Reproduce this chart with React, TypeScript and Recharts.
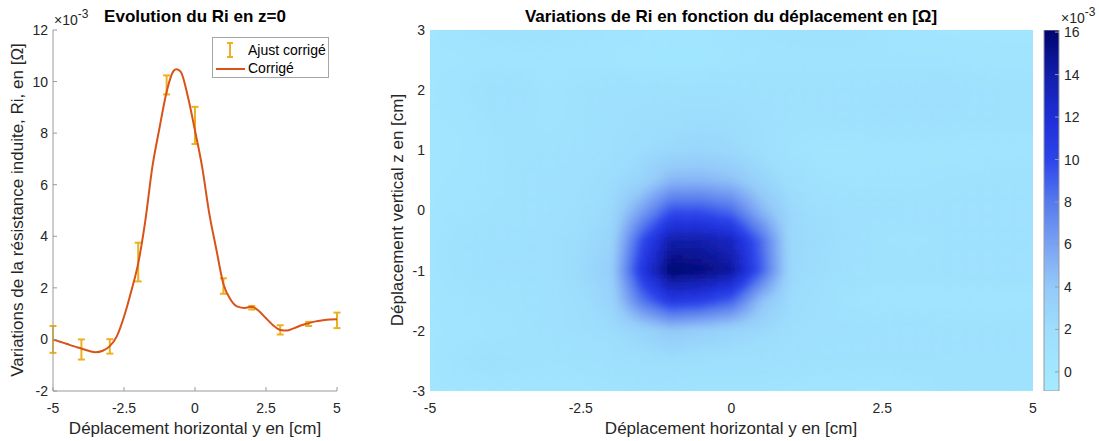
import React from 'react';
import {
  ComposedChart,
  ScatterChart,
  BarChart,
  Bar,
  Line,
  Scatter,
  ErrorBar,
  XAxis,
  YAxis,
  Legend,
  CartesianGrid,
} from 'recharts';

// profil z=0 : courbe corrigée (en 1e-3 Ohm)
const CURVE_POS = [
  -5, -4.75, -4.5, -4.25, -4, -3.75, -3.5, -3.25, -3, -2.75, -2.5, -2.25, -2, -1.75, -1.5, -1.25, -1,
  -0.75, -0.65, -0.5, -0.25, 0, 0.25, 0.5, 0.75, 1, 1.25, 1.5, 1.75, 2, 2.25, 2.5, 2.75, 3, 3.25, 3.5,
  3.75, 4, 4.25, 4.5, 4.75, 5,
];
const CURVE_RI = [
  0.0, -0.09, -0.18, -0.27, -0.35, -0.44, -0.5, -0.44, -0.26, 0.13, 0.88, 1.85, 2.95, 4.6, 6.7, 8.2, 9.6,
  10.42, 10.48, 10.38, 9.41, 8.1, 6.7, 4.9, 3.5, 2.15, 1.55, 1.27, 1.22, 1.27, 1.1, 0.82, 0.55, 0.37, 0.35,
  0.44, 0.55, 0.63, 0.7, 0.74, 0.77, 0.78,
];

// points mesurés + barres d'erreur
const MEAS_POS = [-5, -4, -3, -2, -1, 0, 1, 2, 3, 4, 5];
const MEAS_RI = [0.0, -0.39, -0.27, 3.0, 9.87, 8.3, 2.07, 1.23, 0.37, 0.6, 0.74];
const MEAS_ERR = [0.52, 0.39, 0.28, 0.75, 0.37, 0.72, 0.3, 0.07, 0.18, 0.08, 0.3];

const POS_TICKS = [-5, -2.5, 0, 2.5, 5];
const RI_TICKS = [-2, 0, 2, 4, 6, 8, 10, 12];

// carte Ri(y, z), pas de 0.5 cm
const GRID_Y = [-5, -4.5, -4, -3.5, -3, -2.5, -2, -1.5, -1, -0.5, 0, 0.5, 1, 1.5, 2, 2.5, 3, 3.5, 4, 4.5, 5];
const GRID_Z = [3, 2.5, 2, 1.5, 1, 0.5, 0, -0.5, -1, -1.5, -2, -2.5, -3];
const GRID_RI = [
  [0.5, 0.8, 1.2, 1.2, 1.2, 1.0, 0.8, 0.6, 0.5, 0.5, 0.8, 1.0, 1.2, 1.4, 1.2, 0.8, 0.6, 0.5, 0.5, 0.5, 0.5],
  [0.5, 0.5, 0.6, 0.6, 0.6, 0.6, 0.5, 0.3, 0.2, 0.3, 0.6, 0.8, 0.8, 0.8, 0.8, 0.8, 0.8, 0.8, 0.6, 0.6, 0.6],
  [0.5, 0.8, 1.5, 1.4, 0.8, 1.2, 1.5, 1.5, 1.5, 1.5, 1.5, 1.3, 1.2, 1.3, 1.4, 1.5, 1.5, 1.6, 1.4, 1.2, 1.2],
  [0.5, 0.6, 1.0, 1.2, 0.8, 1.2, 1.6, 1.8, 2.0, 2.2, 2.0, 1.6, 1.2, 1.2, 1.3, 1.5, 1.4, 1.5, 1.3, 1.2, 1.2],
  [0.5, 0.5, 0.8, 1.2, 1.2, 1.3, 1.6, 2.2, 2.6, 2.8, 2.5, 1.8, 0.8, 0.5, 0.5, 0.6, 0.6, 0.5, 0.5, 0.6, 0.6],
  [0.5, 0.6, 0.8, 1.2, 1.5, 1.6, 2.2, 3.0, 5.0, 5.0, 4.5, 3.0, 1.8, 1.0, 0.8, 0.8, 0.8, 1.0, 1.2, 1.2, 1.2],
  [0.5, 0.8, 1.0, 1.2, 1.4, 1.8, 2.5, 6.0, 9.5, 9.5, 8.5, 5.0, 2.5, 1.8, 1.5, 1.5, 1.4, 1.3, 1.3, 1.3, 1.3],
  [0.6, 1.2, 1.4, 1.4, 1.6, 2.2, 3.0, 9.5, 14.0, 14.0, 13.0, 8.5, 2.5, 2.2, 1.5, 1.0, 0.8, 1.2, 1.4, 1.4, 1.4],
  [0.6, 1.2, 1.5, 1.5, 1.6, 2.4, 3.5, 11.0, 16.0, 15.5, 14.5, 9.0, 2.5, 2.0, 1.4, 1.2, 1.2, 1.3, 1.4, 1.4, 1.4],
  [0.5, 0.8, 1.0, 1.2, 1.5, 2.0, 3.0, 8.0, 11.0, 10.5, 9.0, 4.5, 2.2, 1.6, 0.8, 0.6, 0.6, 0.6, 0.6, 0.6, 0.6],
  [0.5, 0.6, 0.8, 1.0, 1.4, 1.8, 2.2, 3.0, 4.0, 3.5, 3.0, 2.5, 1.8, 1.6, 1.5, 1.4, 1.4, 1.3, 1.3, 1.3, 1.3],
  [0.5, 1.0, 1.4, 1.2, 1.0, 1.2, 1.5, 1.8, 2.0, 1.8, 1.6, 1.5, 1.4, 1.2, 1.2, 1.2, 1.2, 1.2, 1.2, 1.2, 1.2],
  [0.5, 0.5, 0.5, 0.5, 0.6, 0.6, 0.8, 1.0, 1.0, 0.8, 0.8, 0.8, 0.6, 0.6, 0.5, 0.5, 0.6, 1.0, 1.2, 1.2, 1.2],
];
const Z_TICKS = [-3, -2, -1, 0, 1, 2, 3];
const CBAR_TICKS = [0, 2, 4, 6, 8, 10, 12, 14, 16];
const CBAR_DOMAIN = [-0.9, 16.1];

// colormap (valeur -> rgb)
const CMAP_VAL = [-0.9, 0, 2, 4, 6, 8, 10, 12, 14, 16.1];
const CMAP_RGB = [
  [164, 234, 255],
  [162, 231, 255],
  [157, 222, 253],
  [148, 202, 249],
  [122, 162, 243],
  [86, 122, 238],
  [44, 68, 235],
  [30, 46, 214],
  [18, 30, 170],
  [0, 4, 110],
];

const FONT = '"Liberation Sans", Arial, Helvetica, sans-serif';
const AXIS_GREY = '#9a9a9a';
const TXT = '#262626';

function riColor(v: number) {
  let i = 0;
  while (i < CMAP_VAL.length - 2 && v > CMAP_VAL[i + 1]) i++;
  const t = Math.max(0, Math.min(1, (v - CMAP_VAL[i]) / (CMAP_VAL[i + 1] - CMAP_VAL[i])));
  const a = CMAP_RGB[i];
  const b = CMAP_RGB[i + 1];
  const c = a.map((av, k) => Math.round(av + (b[k] - av) * t));
  return `rgb(${c[0]},${c[1]},${c[2]})`;
}

const curveData = CURVE_POS.map((pos, i) => ({ pos, ri: CURVE_RI[i] }));
const measData = MEAS_POS.map((pos, i) => ({ pos, ri: MEAS_RI[i], err: MEAS_ERR[i] }));
const cells = GRID_Z.flatMap((z, r) => GRID_Y.map((y, c) => ({ y, z, r, c, v: GRID_RI[r][c] })));
const cbarData = [{ k: 'cb', range: CBAR_DOMAIN }];

// tailles
const H = 441;
const HEAT_W = 695;
const HEAT_MARGIN = { top: 30, right: 7, left: 0, bottom: 0 };
const HEAT_YAXIS_W = 85;
const HEAT_XAXIS_H = 50;
const HEAT_PLOT_W = HEAT_W - HEAT_MARGIN.left - HEAT_MARGIN.right - HEAT_YAXIS_W;
const HEAT_PLOT_H = H - HEAT_MARGIN.top - HEAT_XAXIS_H;
const CELL_W = HEAT_PLOT_W / (GRID_Y.length - 1);
const CELL_H = HEAT_PLOT_H / (GRID_Z.length - 1);
const SUB = 8; // ombrage "interp" : sous-division de chaque maille

const tickStyle = { fill: TXT, fontSize: 14, fontFamily: FONT };

// maille entre le noeud (r,c) et ses voisins droite/bas, couleur bilinéaire
function HeatCell(props: any) {
  const { cx, cy, payload } = props;
  if (cx == null || cy == null) return <g />;
  const { r, c } = payload;
  if (r >= GRID_Z.length - 1 || c >= GRID_Y.length - 1) return <g />;
  const v00 = GRID_RI[r][c];
  const v01 = GRID_RI[r][c + 1];
  const v10 = GRID_RI[r + 1][c];
  const v11 = GRID_RI[r + 1][c + 1];
  const sw = CELL_W / SUB;
  const sh = CELL_H / SUB;
  const rects = [];
  for (let i = 0; i < SUB; i++) {
    const ty = (i + 0.5) / SUB;
    for (let j = 0; j < SUB; j++) {
      const tx = (j + 0.5) / SUB;
      const v = v00 * (1 - tx) * (1 - ty) + v01 * tx * (1 - ty) + v10 * (1 - tx) * ty + v11 * tx * ty;
      rects.push(
        <rect key={i * SUB + j} x={cx + j * sw} y={cy + i * sh} width={sw + 0.6} height={sh + 0.6} fill={riColor(v)} />,
      );
    }
  }
  return <g>{rects}</g>;
}

function LegendBox() {
  return (
    <div
      style={{
        position: 'relative',
        width: 117,
        height: 41,
        boxSizing: 'border-box',
        border: '1px solid #a6a6a6',
        background: '#fff',
        fontFamily: FONT,
        fontSize: 14,
        color: '#000',
      }}
    >
      <svg width={40} height={41} style={{ position: 'absolute', left: 0, top: 0 }}>
        <g stroke="#EDB120" strokeWidth={2}>
          <line x1={17} y1={5} x2={17} y2={19} />
          <line x1={14} y1={5} x2={20} y2={5} />
          <line x1={14} y1={19} x2={20} y2={19} />
        </g>
        <line x1={3} y1={31} x2={32} y2={31} stroke="#D95319" strokeWidth={2} />
      </svg>
      <div style={{ position: 'absolute', left: 35, top: 4, whiteSpace: 'nowrap' }}>Ajust corrigé</div>
      <div style={{ position: 'absolute', left: 35, top: 22, whiteSpace: 'nowrap' }}>Corrigé</div>
    </div>
  );
}

function Txt({ x, y, children, size = 17, bold = false, rotate = false, color = TXT }: any) {
  return (
    <div
      style={{
        position: 'absolute',
        left: x,
        top: y,
        transform: `translate(-50%, -50%)${rotate ? ' rotate(-90deg)' : ''}`,
        whiteSpace: 'nowrap',
        fontFamily: FONT,
        fontSize: size,
        fontWeight: bold ? 'bold' : 'normal',
        color,
      }}
    >
      {children}
    </div>
  );
}

function Exp({ x, y }: { x: number; y: number }) {
  return (
    <div
      style={{
        position: 'absolute',
        left: x,
        top: y,
        fontFamily: FONT,
        fontSize: 14,
        lineHeight: '16px',
        color: TXT,
        whiteSpace: 'nowrap',
      }}
    >
      ×10<sup style={{ fontSize: 12, position: 'relative', top: -1 }}>-3</sup>
    </div>
  );
}

export default function App() {
  return (
    <div style={{ position: 'absolute', left: 0, top: 0, width: 1099, height: H, background: '#fff', overflow: 'hidden' }}>
      <style>{`.heat .recharts-scatter { filter: url(#heatBlur); }`}</style>

      {/* profil z=0 */}
      <div style={{ position: 'absolute', left: 0, top: 0 }}>
        <ComposedChart width={345} height={H} margin={{ top: 30, right: 8, left: 0, bottom: 0 }}>
          <XAxis
            dataKey="pos"
            type="number"
            domain={[-5, 5]}
            ticks={POS_TICKS}
            interval={0}
            height={50}
            tick={tickStyle}
            tickSize={-4}
            tickMargin={16}
            stroke={AXIS_GREY}
          />
          <XAxis
            xAxisId="top"
            orientation="top"
            type="number"
            domain={[-5, 5]}
            ticks={POS_TICKS}
            interval={0}
            height={0}
            tick={false}
            tickSize={-4}
            stroke={AXIS_GREY}
          />
          <YAxis
            dataKey="ri"
            type="number"
            domain={[-2, 12]}
            ticks={RI_TICKS}
            interval={0}
            width={53}
            tick={tickStyle}
            tickSize={-4}
            tickMargin={9}
            stroke={AXIS_GREY}
          />
          <YAxis
            yAxisId="right"
            orientation="right"
            type="number"
            domain={[-2, 12]}
            ticks={RI_TICKS}
            interval={0}
            width={0}
            tick={false}
            tickSize={-4}
            stroke={AXIS_GREY}
          />
          <Scatter data={measData} dataKey="ri" shape={() => <g />} isAnimationActive={false}>
            <ErrorBar dataKey="err" direction="y" width={3.5} stroke="#EDB120" strokeWidth={2} />
          </Scatter>
          <Line
            data={curveData}
            dataKey="ri"
            type="monotone"
            stroke="#D95319"
            strokeWidth={2}
            dot={false}
            activeDot={false}
            isAnimationActive={false}
          />
          <Legend
            layout="vertical"
            align="center"
            verticalAlign="middle"
            content={() => <LegendBox />}
            wrapperStyle={{ left: 212, top: 37, width: 117, height: 41 }}
          />
        </ComposedChart>
      </div>

      {/* carte Ri(y,z) */}
      <div className="heat" style={{ position: 'absolute', left: 345, top: 0 }}>
        <ScatterChart width={HEAT_W} height={H} margin={HEAT_MARGIN}>
          <defs>
            <filter id="heatBlur" x="-2%" y="-2%" width="104%" height="104%">
              <feGaussianBlur stdDeviation={2} />
            </filter>
          </defs>
          <CartesianGrid horizontal={false} vertical={false} fill={riColor(0.6)} />
          <XAxis
            dataKey="y"
            type="number"
            domain={[-5, 5]}
            ticks={POS_TICKS}
            interval={0}
            allowDataOverflow
            height={HEAT_XAXIS_H}
            tick={tickStyle}
            tickSize={0}
            tickMargin={12}
            axisLine={false}
            tickLine={false}
          />
          <YAxis
            dataKey="z"
            type="number"
            domain={[-3, 3]}
            ticks={Z_TICKS}
            interval={0}
            allowDataOverflow
            width={HEAT_YAXIS_W}
            tick={tickStyle}
            tickSize={0}
            tickMargin={5}
            axisLine={false}
            tickLine={false}
          />
          <Scatter data={cells} shape={HeatCell} isAnimationActive={false} />
        </ScatterChart>
      </div>

      {/* barre de couleur */}
      <div style={{ position: 'absolute', left: 1040, top: 0 }}>
        <BarChart
          width={59}
          height={H}
          margin={{ top: 30, right: 0, left: 4, bottom: 50 }}
          data={cbarData}
          barCategoryGap={0}
        >
          <defs>
            <linearGradient id="cbarGrad" x1="0" y1="1" x2="0" y2="0">
              {CMAP_VAL.map((v, i) => (
                <stop
                  key={v}
                  offset={(v - CBAR_DOMAIN[0]) / (CBAR_DOMAIN[1] - CBAR_DOMAIN[0])}
                  stopColor={`rgb(${CMAP_RGB[i].join(',')})`}
                />
              ))}
            </linearGradient>
          </defs>
          <XAxis dataKey="k" hide />
          <YAxis
            orientation="right"
            type="number"
            domain={CBAR_DOMAIN}
            allowDataOverflow
            ticks={CBAR_TICKS}
            interval={0}
            width={40}
            tick={tickStyle}
            tickSize={-4}
            tickMargin={9}
            axisLine={false}
            stroke={AXIS_GREY}
          />
          <Bar dataKey="range" fill="url(#cbarGrad)" stroke={AXIS_GREY} strokeWidth={1} isAnimationActive={false} />
        </BarChart>
      </div>

      {/* titres et libellés */}
      <Txt x={195} y={17} bold color="#000">Evolution du Ri en z=0</Txt>
      <Txt x={731} y={17} bold color="#000">Variations de Ri en fonction du déplacement en [Ω]</Txt>
      <Txt x={195} y={429}>Déplacement horizontal y en [cm]</Txt>
      <Txt x={731} y={429}>Déplacement horizontal y en [cm]</Txt>
      <Txt x={18} y={210} rotate>Variations de la résistance induite, Ri, en [Ω]</Txt>
      <Txt x={398} y={210} rotate>Déplacement vertical z en [cm]</Txt>
      <Exp x={54} y={7} />
      <Exp x={1061} y={5} />
    </div>
  );
}
